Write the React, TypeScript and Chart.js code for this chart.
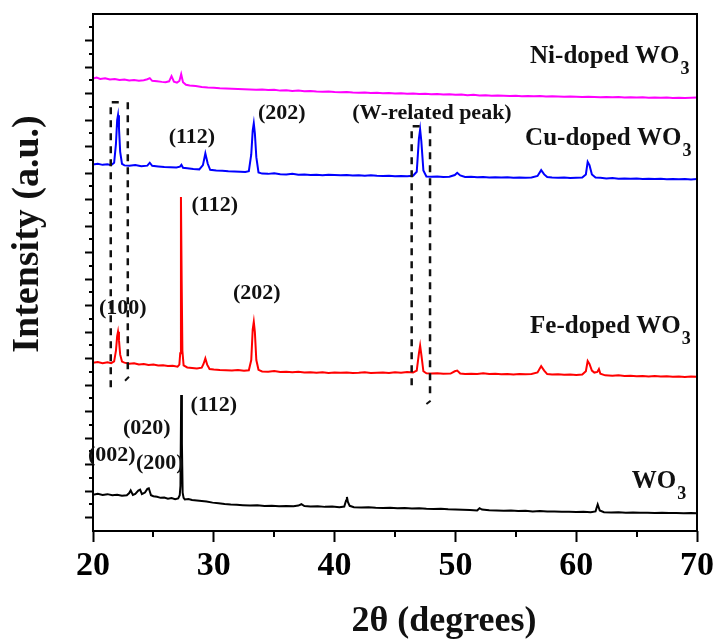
import React, { useEffect, useRef } from "react";
import { Chart, registerables } from "chart.js";

Chart.register(...registerables);

// ---------- axis ranges and ticks ----------
const X_MIN = 20;
const X_MAX = 70;
const Y_MIN = 0;
const Y_MAX = 39;
const X_MAJOR_TICKS = [20, 30, 40, 50, 60, 70];
const X_MINOR_TICKS = [25, 35, 45, 55, 65];
const Y_MAJOR_TICKS = [1, 3, 5, 7, 9, 11, 13, 15, 17, 19, 21, 23, 25, 27, 29, 31, 33, 35, 37];
const Y_MINOR_TICKS = [2, 4, 6, 8, 10, 12, 14, 16, 18, 20, 22, 24, 26, 28, 30, 32, 34, 36, 38];

const SERIES_NAMES = ["WO3", "Fe-doped WO3", "Cu-doped WO3", "Ni-doped WO3"];

// ---------- series: [2θ, intensity (offset, a.u.)] ----------
const WO3: [number, number][] = [
  [20.0, 2.74], [20.4, 2.8], [20.8, 2.72], [21.2, 2.78], [21.6, 2.7], [22.0, 2.74], [22.4, 2.66],
  [22.8, 2.7], [23.0, 2.86], [23.12, 3.06], [23.3, 2.72], [23.5, 2.8], [23.75, 3.05], [23.9, 3.12],
  [24.05, 2.78], [24.3, 2.9], [24.5, 3.18], [24.62, 3.22], [24.8, 2.7], [25.0, 2.62], [25.3, 2.58],
  [25.6, 2.5], [25.9, 2.52], [26.2, 2.44], [26.5, 2.48], [26.8, 2.4], [27.05, 2.46], [27.18, 2.7],
  [27.24, 3.4], [27.3, 10.26], [27.36, 6.6], [27.42, 2.9], [27.5, 2.5], [27.6, 2.38], [27.9, 2.42],
  [28.2, 2.34], [28.6, 2.3], [29.0, 2.26], [29.4, 2.22], [29.9, 2.14], [30.4, 2.1], [30.9, 2.04],
  [31.4, 2.0], [31.9, 1.98], [32.4, 1.95], [33.0, 1.92], [33.6, 1.94], [34.2, 1.88], [34.8, 1.9],
  [35.4, 1.86], [36.0, 1.88], [36.6, 1.86], [37.0, 1.92], [37.25, 2.02], [37.5, 1.88], [38.0, 1.84],
  [38.6, 1.86], [39.2, 1.82], [39.8, 1.84], [40.4, 1.8], [40.8, 1.84], [40.95, 2.3], [41.02, 2.56],
  [41.1, 2.2], [41.25, 1.9], [41.6, 1.8], [42.2, 1.78], [42.8, 1.8], [43.4, 1.76], [44.0, 1.74],
  [44.6, 1.76], [45.2, 1.72], [45.8, 1.74], [46.4, 1.7], [47.0, 1.72], [47.6, 1.68], [48.2, 1.66],
  [48.8, 1.68], [49.4, 1.64], [50.0, 1.62], [50.6, 1.6], [51.2, 1.58], [51.8, 1.55], [52.0, 1.72],
  [52.2, 1.62], [52.8, 1.56], [53.4, 1.54], [54.0, 1.52], [54.6, 1.54], [55.2, 1.5], [55.8, 1.52],
  [56.4, 1.48], [57.0, 1.5], [57.6, 1.47], [58.2, 1.48], [58.8, 1.45], [59.4, 1.46], [60.0, 1.44],
  [60.6, 1.45], [61.2, 1.42], [61.6, 1.48], [61.78, 2.0], [61.95, 1.55], [62.3, 1.42], [62.9, 1.4],
  [63.5, 1.41], [64.1, 1.38], [64.7, 1.39], [65.3, 1.37], [65.9, 1.38], [66.5, 1.36], [67.1, 1.37],
  [67.7, 1.35], [68.3, 1.36], [68.9, 1.34], [69.5, 1.35], [70.0, 1.33],
];

const FE_WO3: [number, number][] = [
  [20.0, 12.69], [20.4, 12.74], [20.8, 12.66], [21.2, 12.72], [21.5, 12.66], [21.75, 12.8], [21.9, 13.6],
  [22.0, 14.7], [22.07, 15.03], [22.15, 14.4], [22.25, 13.3], [22.4, 12.78], [22.6, 12.7], [23.0, 12.62],
  [23.4, 12.66], [23.8, 12.56], [24.2, 12.6], [24.6, 12.52], [25.0, 12.56], [25.4, 12.48], [25.8, 12.5],
  [26.2, 12.44], [26.6, 12.46], [27.0, 12.4], [27.15, 12.55], [27.22, 13.4], [27.28, 25.2], [27.34, 18.9],
  [27.4, 13.6], [27.5, 12.5], [27.8, 12.34], [28.2, 12.3], [28.6, 12.26], [29.0, 12.32], [29.15, 12.6],
  [29.3, 13.02], [29.45, 12.55], [29.65, 12.22], [30.0, 12.18], [30.5, 12.14], [31.0, 12.12], [31.5, 12.1],
  [32.0, 12.14], [32.5, 12.08], [32.9, 12.12], [33.1, 12.9], [33.22, 15.2], [33.31, 15.78], [33.4, 15.0],
  [33.52, 12.9], [33.7, 12.16], [34.0, 12.04], [34.5, 12.02], [35.0, 12.06], [35.5, 12.0], [36.0, 12.02],
  [36.5, 11.98], [37.0, 12.02], [37.5, 11.96], [38.0, 11.98], [38.5, 11.94], [39.0, 11.98], [39.5, 11.92],
  [40.0, 11.96], [40.5, 11.94], [41.0, 11.96], [41.5, 11.92], [42.0, 11.94], [42.5, 11.98], [43.0, 11.92],
  [43.5, 11.94], [44.0, 11.96], [44.5, 11.92], [45.0, 11.98], [45.5, 11.94], [46.0, 11.99], [46.5, 11.96],
  [46.8, 12.1], [46.98, 13.4], [47.08, 13.98], [47.18, 13.3], [47.35, 12.05], [47.6, 11.9], [48.0, 11.88],
  [48.5, 11.9], [49.0, 11.86], [49.6, 11.88], [49.95, 12.05], [50.15, 12.1], [50.4, 11.88], [50.8, 11.84],
  [51.3, 11.86], [51.8, 11.84], [52.3, 11.9], [52.8, 11.84], [53.3, 11.86], [53.8, 11.82], [54.3, 11.84],
  [54.8, 11.8], [55.3, 11.84], [55.8, 11.82], [56.3, 11.84], [56.8, 11.96], [57.1, 12.44], [57.35, 12.1],
  [57.6, 11.84], [58.0, 11.8], [58.5, 11.82], [59.0, 11.78], [59.5, 11.8], [60.0, 11.76], [60.5, 11.8],
  [60.8, 12.05], [60.95, 12.82], [61.1, 12.6], [61.3, 12.1], [61.5, 11.95], [61.75, 12.0], [61.88, 12.22],
  [62.0, 11.86], [62.4, 11.74], [63.0, 11.72], [63.5, 11.74], [64.0, 11.7], [64.5, 11.72], [65.0, 11.68],
  [65.5, 11.7], [66.0, 11.66], [66.5, 11.7], [67.0, 11.66], [67.5, 11.68], [68.0, 11.64], [68.5, 11.66],
  [69.0, 11.62], [69.5, 11.66], [70.0, 11.64],
];

const CU_WO3: [number, number][] = [
  [20.0, 27.65], [20.4, 27.7], [20.8, 27.62], [21.2, 27.66], [21.5, 27.6], [21.75, 27.78], [21.9, 29.2],
  [22.0, 31.0], [22.07, 31.37], [22.15, 30.4], [22.25, 28.6], [22.4, 27.7], [22.6, 27.58], [23.0, 27.55],
  [23.5, 27.6], [24.0, 27.52], [24.5, 27.56], [24.7, 27.78], [24.9, 27.55], [25.4, 27.5], [25.9, 27.46],
  [26.4, 27.44], [26.9, 27.42], [27.2, 27.48], [27.32, 27.62], [27.45, 27.4], [27.8, 27.36], [28.3, 27.3],
  [28.8, 27.28], [29.1, 27.6], [29.3, 28.48], [29.5, 27.7], [29.7, 27.25], [30.2, 27.2], [30.7, 27.18],
  [31.2, 27.14], [31.7, 27.12], [32.2, 27.1], [32.6, 27.08], [32.9, 27.14], [33.1, 28.4], [33.22, 30.2],
  [33.31, 30.75], [33.4, 30.0], [33.52, 28.2], [33.7, 27.05], [34.0, 26.96], [34.5, 26.94], [35.0, 26.98],
  [35.5, 26.92], [36.0, 26.9], [36.5, 26.94], [37.0, 26.88], [37.5, 26.9], [38.0, 26.86], [38.5, 26.88],
  [39.0, 26.84], [39.5, 26.88], [40.0, 26.86], [40.5, 26.84], [41.0, 26.86], [41.5, 26.82], [42.0, 26.84],
  [42.5, 26.8], [43.0, 26.84], [43.5, 26.8], [44.0, 26.78], [44.5, 26.8], [45.0, 26.76], [45.5, 26.78],
  [46.0, 26.77], [46.5, 26.8], [46.8, 27.1], [46.98, 29.6], [47.08, 30.29], [47.18, 29.4], [47.35, 27.2],
  [47.6, 26.74], [48.0, 26.72], [48.5, 26.74], [49.0, 26.7], [49.5, 26.72], [49.95, 26.85], [50.15, 27.02],
  [50.4, 26.82], [50.8, 26.7], [51.3, 26.72], [51.8, 26.68], [52.3, 26.7], [52.8, 26.66], [53.3, 26.68],
  [53.8, 26.66], [54.3, 26.68], [54.8, 26.64], [55.3, 26.66], [55.8, 26.64], [56.3, 26.66], [56.8, 26.78],
  [57.1, 27.22], [57.35, 26.9], [57.6, 26.7], [58.0, 26.66], [58.5, 26.64], [59.0, 26.66], [59.5, 26.62],
  [60.0, 26.64], [60.5, 26.66], [60.8, 26.9], [60.95, 27.85], [61.1, 27.6], [61.3, 26.9], [61.6, 26.66],
  [62.0, 26.64], [62.5, 26.6], [63.0, 26.62], [63.5, 26.58], [64.0, 26.6], [64.5, 26.58], [65.0, 26.6],
  [65.5, 26.56], [66.0, 26.58], [66.5, 26.56], [67.0, 26.58], [67.5, 26.54], [68.0, 26.56], [68.5, 26.54],
  [69.0, 26.56], [69.5, 26.52], [70.0, 26.55],
];

const NI_WO3: [number, number][] = [
  [20.0, 34.14], [20.3, 34.2], [20.6, 34.1], [21.0, 34.16], [21.4, 34.06], [21.8, 34.1], [22.2, 34.02],
  [22.6, 34.06], [23.0, 33.98], [23.4, 34.02], [23.8, 33.96], [24.2, 34.0], [24.5, 34.08], [24.7, 34.16],
  [24.9, 33.96], [25.3, 33.92], [25.7, 33.88], [26.0, 33.86], [26.3, 33.92], [26.5, 34.31], [26.7, 33.9],
  [26.95, 33.82], [27.15, 33.95], [27.3, 34.46], [27.45, 33.86], [27.7, 33.66], [28.0, 33.6], [28.5, 33.56],
  [29.0, 33.5], [29.5, 33.46], [30.0, 33.44], [30.5, 33.4], [31.0, 33.38], [31.5, 33.36], [32.0, 33.34],
  [32.5, 33.32], [33.0, 33.3], [33.5, 33.28], [34.0, 33.3], [34.5, 33.26], [35.0, 33.28], [35.5, 33.22],
  [36.0, 33.24], [36.5, 33.2], [37.0, 33.22], [37.5, 33.18], [38.0, 33.2], [38.5, 33.16], [39.0, 33.14],
  [39.5, 33.16], [40.0, 33.12], [40.5, 33.1], [41.0, 33.12], [41.5, 33.08], [42.0, 33.06], [42.5, 33.08],
  [43.0, 33.04], [43.5, 33.06], [44.0, 33.02], [44.5, 33.04], [45.0, 33.0], [45.5, 33.02], [46.0, 32.98],
  [46.5, 33.0], [47.0, 32.96], [47.5, 32.98], [48.0, 32.94], [48.5, 32.96], [49.0, 32.92], [49.5, 32.94],
  [50.0, 32.9], [50.5, 32.92], [51.0, 32.88], [51.5, 32.9], [52.0, 32.86], [52.5, 32.88], [53.0, 32.84],
  [53.5, 32.86], [54.0, 32.84], [54.5, 32.82], [55.0, 32.84], [55.5, 32.8], [56.0, 32.82], [56.5, 32.8],
  [57.0, 32.82], [57.5, 32.78], [58.0, 32.8], [58.5, 32.78], [59.0, 32.76], [59.5, 32.78], [60.0, 32.76],
  [60.5, 32.74], [61.0, 32.76], [61.5, 32.74], [62.0, 32.72], [62.5, 32.74], [63.0, 32.72], [63.5, 32.74],
  [64.0, 32.7], [64.5, 32.72], [65.0, 32.7], [65.5, 32.72], [66.0, 32.68], [66.5, 32.7], [67.0, 32.68],
  [67.5, 32.7], [68.0, 32.66], [68.5, 32.68], [69.0, 32.66], [69.5, 32.68], [70.0, 32.7],
];

// ---------- annotation texts (positions in data units) ----------
const SAMPLE_LABELS = [
  { main: "Ni-doped WO", sub: "3", x: 56.18, y: 35.27 },
  { main: "Cu-doped WO", sub: "3", x: 55.77, y: 29.11 },
  { main: "Fe-doped WO", sub: "3", x: 56.18, y: 14.95 },
  { main: "WO", sub: "3", x: 64.6, y: 3.22 },
];

const PEAK_LABELS = [
  { text: "(112)", x: 28.19, y: 29.71 },
  { text: "(202)", x: 35.63, y: 31.52 },
  { text: "(W-related peak)", x: 48.06, y: 31.52 },
  { text: "(112)", x: 30.08, y: 24.59 },
  { text: "(202)", x: 33.56, y: 17.95 },
  { text: "(100)", x: 22.47, y: 16.82 },
  { text: "(112)", x: 30.0, y: 9.5 },
  { text: "(020)", x: 24.45, y: 7.77 },
  { text: "(002)", x: 21.55, y: 5.73 },
  { text: "(200)", x: 25.53, y: 5.13 },
];

// dashed guide boxes (data units)
const GUIDE_BOXES = [
  { left: 21.47, right: 22.88, top: 32.35, leftBottom: 10.78, rightBottom: 11.9, slash: [22.65, 11.33, 22.98, 11.64] },
  { left: 46.38, right: 47.9, top: 30.54, leftBottom: 10.63, rightBottom: 10.18, slash: [47.6, 9.58, 47.95, 9.83] },
];

const FONT = "'Liberation Serif', 'Times New Roman', Times, serif";
const COLORS = ["#000000", "#ff0000", "#0000ff", "#ff00ff"];
const TEXT_COLOR = "#111111";

const decorPlugin = {
  id: "decor",
  afterDraw(chart: any) {
    const { ctx, chartArea: a, scales } = chart;
    const xs = scales.x;
    const ys = scales.y;
    const px = (v: number) => xs.getPixelForValue(v);
    const py = (v: number) => ys.getPixelForValue(v);
    ctx.save();

    // frame
    ctx.strokeStyle = "#000";
    ctx.lineWidth = 2;
    ctx.setLineDash([]);
    ctx.strokeRect(a.left, a.top, a.right - a.left, a.bottom - a.top);

    // minor ticks
    ctx.lineWidth = 2;
    X_MINOR_TICKS.forEach((v) => {
      const x = Math.round(px(v));
      ctx.beginPath();
      ctx.moveTo(x, a.bottom);
      ctx.lineTo(x, a.bottom + 6);
      ctx.stroke();
    });
    Y_MINOR_TICKS.forEach((v) => {
      const y = Math.round(py(v));
      ctx.beginPath();
      ctx.moveTo(a.left, y);
      ctx.lineTo(a.left - 4, y);
      ctx.stroke();
    });

    // dashed guide boxes
    ctx.strokeStyle = "#111";
    ctx.lineWidth = 2.5;
    GUIDE_BOXES.forEach((b) => {
      ctx.setLineDash([7, 6]);
      ctx.beginPath();
      ctx.moveTo(px(b.left) + 8, py(b.top));
      ctx.lineTo(px(b.left), py(b.top));
      ctx.lineTo(px(b.left), py(b.leftBottom));
      ctx.stroke();
      ctx.beginPath();
      ctx.moveTo(px(b.right), py(b.top));
      ctx.lineTo(px(b.right), py(b.rightBottom));
      ctx.stroke();
      ctx.setLineDash([]);
      ctx.lineWidth = 2;
      ctx.beginPath();
      ctx.moveTo(px(b.slash[0]), py(b.slash[1]));
      ctx.lineTo(px(b.slash[2]), py(b.slash[3]));
      ctx.stroke();
      ctx.lineWidth = 2.5;
    });
    ctx.setLineDash([]);

    // texts
    ctx.fillStyle = TEXT_COLOR;
    SAMPLE_LABELS.forEach((l) => {
      ctx.font = `bold 25px ${FONT}`;
      ctx.textAlign = "left";
      ctx.textBaseline = "alphabetic";
      const x = px(l.x);
      const y = py(l.y);
      ctx.fillText(l.main, x, y);
      const w = ctx.measureText(l.main).width;
      ctx.font = `bold 18px ${FONT}`;
      ctx.fillText(l.sub, x + w + 1, y + 11);
    });

    ctx.font = `bold 22px ${FONT}`;
    ctx.textAlign = "center";
    ctx.textBaseline = "middle";
    PEAK_LABELS.forEach((l) => {
      ctx.fillText(l.text, px(l.x), py(l.y));
    });

    // axis titles
    ctx.font = `bold 36px ${FONT}`;
    ctx.textAlign = "center";
    ctx.textBaseline = "middle";
    ctx.fillText("2θ (degrees)", a.left + 351, a.bottom + 91);

    ctx.save();
    ctx.font = `bold 38px ${FONT}`;
    ctx.translate(28, a.top + 220);
    ctx.rotate(-Math.PI / 2);
    ctx.fillText("Intensity (a.u.)", 0, 0);
    ctx.restore();

    ctx.restore();
  },
};

export default function App() {
  const ref = useRef<HTMLCanvasElement | null>(null);

  useEffect(() => {
    if (!ref.current) return;
    const all = [WO3, FE_WO3, CU_WO3, NI_WO3];
    const chart = new Chart(ref.current, {
      type: "line",
      data: {
        datasets: all.map((s, i) => ({
          label: SERIES_NAMES[i],
          data: s.map(([x, y]) => ({ x, y })),
          borderColor: COLORS[i],
          backgroundColor: COLORS[i],
          borderWidth: 2,
          pointRadius: 0,
          tension: 0,
          fill: false,
        })),
      },
      options: {
        responsive: false,
        animation: false,
        devicePixelRatio: 1,
        layout: { padding: { top: 14, right: 21, left: 0, bottom: 0 } },
        plugins: { legend: { display: false }, tooltip: { enabled: false } },
        scales: {
          x: {
            type: "linear",
            min: X_MIN,
            max: X_MAX,
            afterBuildTicks: (s: any) => {
              s.ticks = X_MAJOR_TICKS.map((v) => ({ value: v }));
            },
            ticks: {
              color: "#000",
              font: { family: FONT, size: 34, weight: "bold" },
              padding: 4,
              maxRotation: 0,
              callback: (v: any) => String(v),
            },
            grid: {
              display: true,
              drawOnChartArea: false,
              drawTicks: true,
              tickLength: 11,
              tickWidth: 2,
              tickColor: "#000",
            },
            border: { display: false },
            afterFit: (s: any) => {
              s.height = 110;
              s.paddingLeft = 0;
              s.paddingRight = 0;
            },
          },
          y: {
            type: "linear",
            min: Y_MIN,
            max: Y_MAX,
            afterBuildTicks: (s: any) => {
              s.ticks = Y_MAJOR_TICKS.map((v) => ({ value: v }));
            },
            ticks: { display: false },
            grid: {
              display: true,
              drawOnChartArea: false,
              drawTicks: true,
              tickLength: 8,
              tickWidth: 2,
              tickColor: "#000",
            },
            border: { display: false },
            afterFit: (s: any) => {
              s.width = 93;
              s.paddingTop = 0;
              s.paddingBottom = 0;
            },
          },
        },
      },
      plugins: [decorPlugin],
    } as any);
    return () => chart.destroy();
  }, []);

  return (
    <div style={{ position: "absolute", left: 0, top: 0, width: 718, height: 641, background: "#fff" }}>
      <canvas ref={ref} width={718} height={641} style={{ display: "block" }} />
    </div>
  );
}
